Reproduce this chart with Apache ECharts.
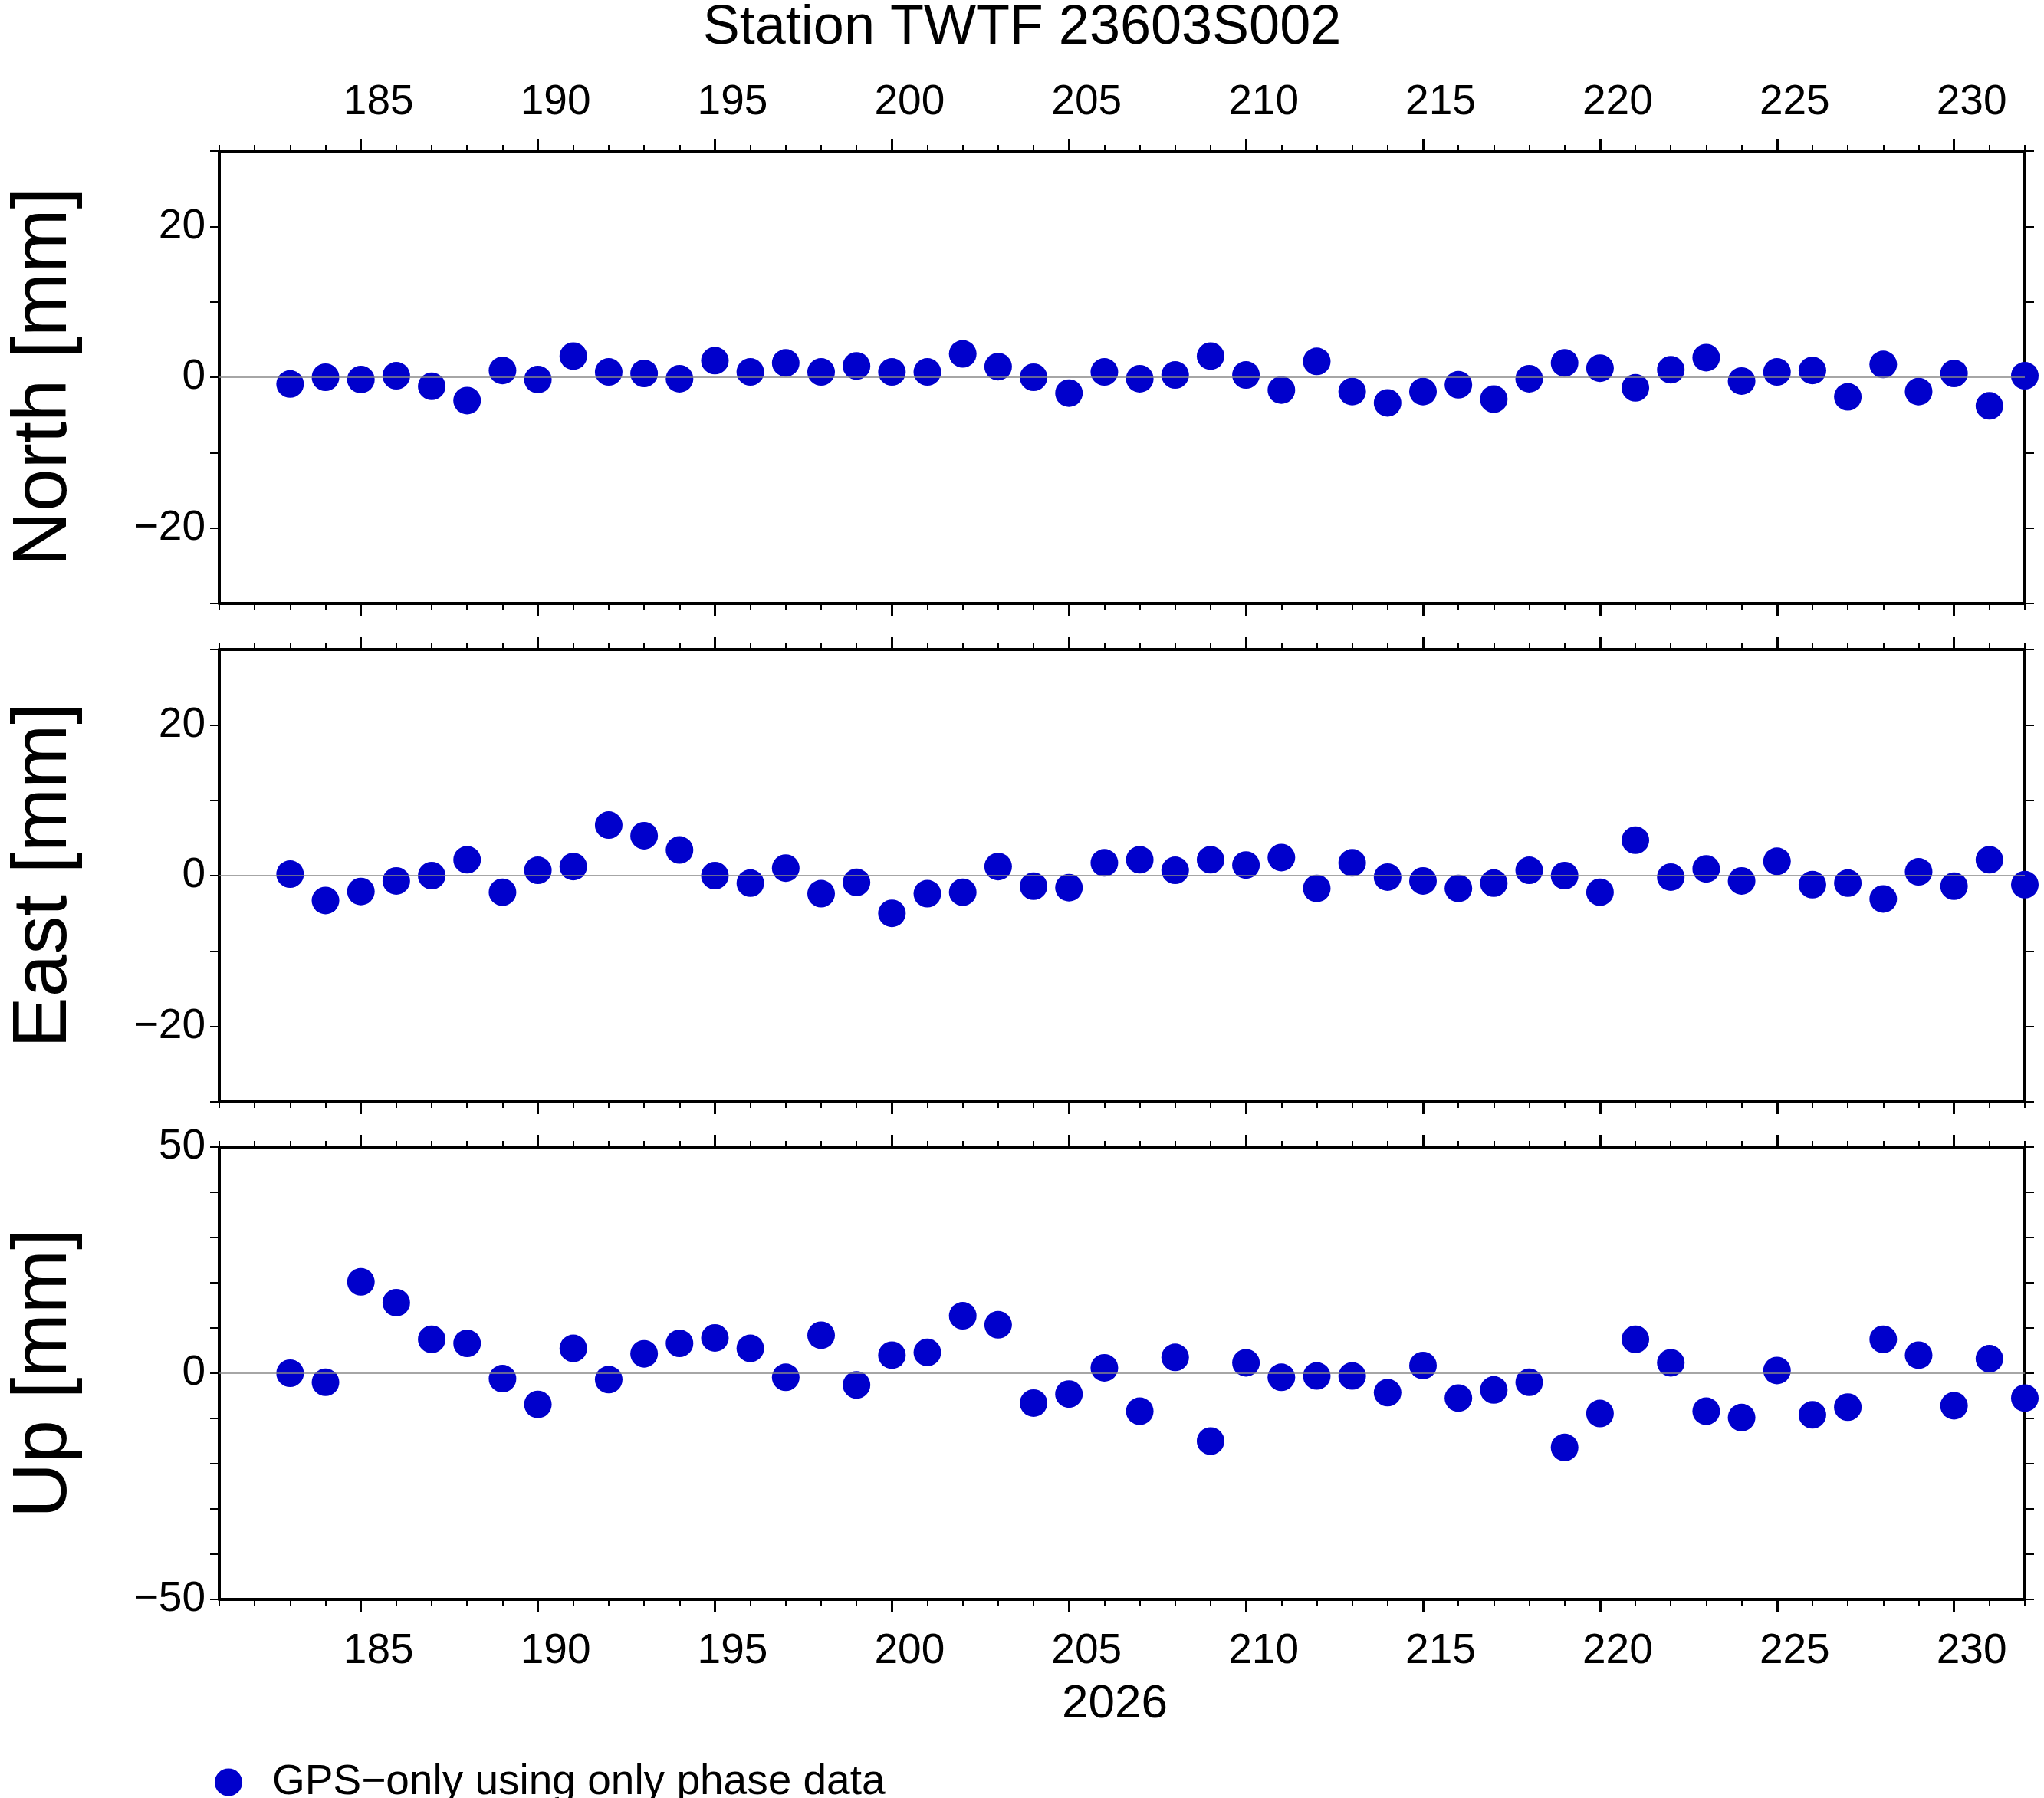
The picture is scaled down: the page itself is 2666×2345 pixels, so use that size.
<!DOCTYPE html>
<html>
<head>
<meta charset="UTF-8">
<title>Station TWTF 23603S002</title>
<script src="https://cdn.jsdelivr.net/npm/echarts@6/dist/echarts.min.js"></script>
<style>
html, body { margin: 0; padding: 0; background: #fff; }
#main { width: 2666px; height: 2345px; }
</style>
</head>
<body>
<div id="main"></div>
<script>
// day of year 183 .. 232
var days = [];
for (var d = 183; d <= 232; d++) days.push(d);

var north = [-0.9, 0, -0.3, 0.2, -1.2, -3.1, 0.9, -0.3, 2.8, 0.7,
  0.5, -0.2, 2.2, 0.7, 1.9, 0.7, 1.5, 0.7, 0.7, 3.1,
  1.4, 0, -2.1, 0.7, -0.2, 0.3, 2.8, 0.3, -1.7, 2.1,
  -1.9, -3.4, -1.9, -1.0, -2.9, -0.2, 1.9, 1.2, -1.4, 1.0,
  2.6, -0.5, 0.7, 0.9, -2.6, 1.7, -1.9, 0.5, -3.8, 0.2];
var east = [0.2, -3.3, -2.1, -0.7, 0, 2.1, -2.2, 0.7, 1.2, 6.7,
  5.3, 3.4, 0, -1.0, 1.0, -2.4, -0.9, -5.0, -2.4, -2.2,
  1.2, -1.4, -1.6, 1.7, 2.1, 0.7, 2.1, 1.4, 2.4, -1.7,
  1.7, -0.2, -0.7, -1.7, -1.0, 0.7, 0, -2.2, 4.7, -0.2,
  0.9, -0.7, 1.9, -1.2, -1.0, -3.1, 0.5, -1.4, 2.1, -1.2];
var up = [0, -2.0, 20.2, 15.6, 7.5, 6.6, -1.2, -6.9, 5.5, -1.4,
  4.3, 6.6, 7.8, 5.5, -0.9, 8.4, -2.6, 4.0, 4.6, 12.7,
  10.7, -6.6, -4.6, 1.2, -8.4, 3.5, -15.0, 2.3, -0.9, -0.6,
  -0.6, -4.3, 1.7, -5.5, -3.7, -2.0, -16.4, -8.9, 7.5, 2.3,
  -8.4, -9.8, 0.6, -9.2, -7.5, 7.5, 4.0, -7.2, 3.2, -5.5];

var xMajor = [185, 190, 195, 200, 205, 210, 215, 220, 225, 230];
var xMinor = [];
for (var m = 181; m <= 232; m++) xMinor.push(m);

var panels = [
  { name: 'North [mm]', data: north, min: -30, max: 30, labels: [-20, 0, 20], ticks: [-30, -20, -10, 0, 10, 20, 30] },
  { name: 'East [mm]', data: east, min: -30, max: 30, labels: [-20, 0, 20], ticks: [-30, -20, -10, 0, 10, 20, 30] },
  { name: 'Up [mm]', data: up, min: -50, max: 50, labels: [-50, 0, 50], ticks: [-50, -40, -30, -20, -10, 0, 10, 20, 30, 40, 50] }
];

var font = 'Liberation Sans, Arial, sans-serif';
var tops = [197, 847, 1496];
var grids = [], xAxes = [], yAxes = [], series = [];

panels.forEach(function (p, i) {
  grids.push({ left: 262, right: 25, top: tops[i], height: 590 });
  ['bottom', 'top'].forEach(function (pos) {
    var showLab = (pos === 'top' && i === 0) || (pos === 'bottom' && i === 2);
    xAxes.push({
      type: 'value', gridIndex: i, position: pos, min: 181, max: 232,
      axisLine: { show: true, onZero: false, lineStyle: { color: '#000', width: 4 } },
      axisTick: { show: true, customValues: xMajor, length: 16, lineStyle: { color: '#000', width: 3 } },
      axisLabel: { show: showLab, customValues: xMajor, color: '#000', fontSize: 55, fontFamily: font,
        margin: pos === 'top' ? 36 : 40, padding: [0, 0, 0, 46] },
      splitLine: { show: false }
    });
    xAxes.push({
      type: 'value', gridIndex: i, position: pos, min: 181, max: 232,
      axisLine: { show: false, onZero: false },
      axisTick: { show: true, customValues: xMinor, length: 8, lineStyle: { color: '#000', width: 2 } },
      axisLabel: { show: false },
      splitLine: { show: false }
    });
  });
  ['left', 'right'].forEach(function (pos) {
    yAxes.push({
      type: 'value', gridIndex: i, position: pos, min: p.min, max: p.max,
      name: pos === 'left' ? p.name : '', nameLocation: 'middle', nameGap: 178,
      nameTextStyle: { color: '#000', fontSize: 100, fontFamily: font },
      axisLine: { show: true, onZero: false, lineStyle: { color: '#000', width: 4 } },
      axisTick: { show: true, customValues: p.ticks, length: 12, lineStyle: { color: '#000', width: 2 } },
      axisLabel: { show: pos === 'left', customValues: p.labels, color: '#000', fontSize: 55, fontFamily: font,
        margin: 18, formatter: function (v) { return v < 0 ? '\u2212' + (-v) : '' + v; } },
      splitLine: { show: false }
    });
  });
  series.push({
    name: 'GPS\u2212only using only phase data',
    type: 'scatter', xAxisIndex: i * 4, yAxisIndex: i * 2,
    symbolSize: 36, itemStyle: { color: '#0000cc', opacity: 1 },
    data: days.map(function (dd, k) { return [dd, p.data[k]]; }),
    markLine: {
      silent: true, symbol: 'none', label: { show: false },
      lineStyle: { color: '#888', width: 1.5, type: 'solid' },
      data: [{ yAxis: 0 }]
    },
    z: 3
  });
});

var chart = echarts.init(document.getElementById('main'));
chart.setOption({
  animation: false,
  backgroundColor: '#fff',
  title: { text: 'Station TWTF 23603S002', left: 'center', top: -4,
    textStyle: { color: '#000', fontSize: 72, fontWeight: 'normal', fontFamily: font } },
  legend: { left: 275, top: 2292, icon: 'circle', itemWidth: 36, itemHeight: 36, itemGap: 20,
    textStyle: { color: '#000', fontSize: 55, fontFamily: font, padding: [0, 0, 0, 34] },
    data: ['GPS\u2212only using only phase data'] },
  graphic: [{ type: 'text', left: 1385, top: 2192,
    style: { text: '2026', fontSize: 62, fontFamily: font, fill: '#000' } }],
  grid: grids, xAxis: xAxes, yAxis: yAxes, series: series
});
</script>
</body>
</html>
